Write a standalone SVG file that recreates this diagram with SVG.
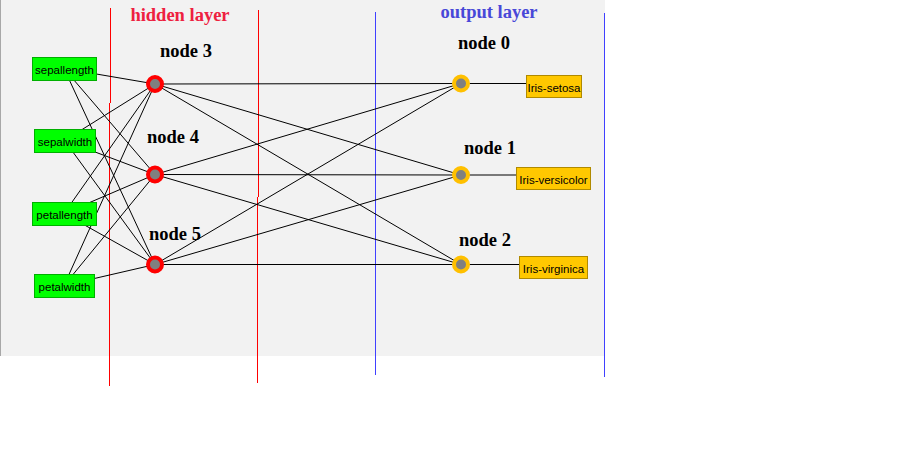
<svg xmlns="http://www.w3.org/2000/svg" width="921" height="458" viewBox="0 0 921 458">
<style>
.bg{fill:#f2f2f2}
.conn line{stroke:#000;stroke-width:1}
.in rect{fill:#00ff00;stroke:#00b000;stroke-width:1}
.out rect{fill:#ffc800;stroke:#b08a00;stroke-width:1}
.lbl{font-family:"Liberation Sans",Arial,sans-serif;font-size:11.5px;fill:#000}
.nl{font-family:"Liberation Serif","Times New Roman",serif;font-weight:bold;font-size:18.5px;fill:#000}
.hn .ring{fill:#808080;stroke:#ff0000;stroke-width:4}
.on .ring{fill:#808080;stroke:#ffc000;stroke-width:4}
</style>
<rect class="bg" x="0" y="0" width="605" height="356"/>
<line x1="0.5" y1="0" x2="0.5" y2="356" stroke="#a8a8a8" stroke-width="1"/>
<g id="layer-lines" fill="none" stroke-width="1">
<line x1="110.5" y1="8" x2="110.5" y2="103" stroke="#ff0000"/>
<line x1="109.5" y1="103" x2="109.5" y2="386" stroke="#ff0000"/>
<line x1="258.5" y1="10" x2="258.5" y2="197" stroke="#ff0000"/>
<line x1="257.5" y1="197" x2="257.5" y2="383" stroke="#ff0000"/>
<line x1="375.5" y1="12" x2="375.5" y2="375" stroke="#4040ff"/>
<line x1="604.5" y1="13" x2="604.5" y2="377" stroke="#4040ff"/>
</g>
<g id="layer-titles">
<text x="180" y="21" text-anchor="middle" style="font-family:'Liberation Serif','Times New Roman',serif;font-weight:bold;font-size:18.5px;fill:#ee2040">hidden layer</text>
<text x="489" y="18" text-anchor="middle" style="font-family:'Liberation Serif','Times New Roman',serif;font-weight:bold;font-size:18.5px;fill:#4848d8">output layer</text>
</g>
<g id="connectors" class="conn">
<line x1="64" y1="68.5" x2="155" y2="84"/>
<line x1="64" y1="68.5" x2="155" y2="174.5"/>
<line x1="64" y1="68.5" x2="155" y2="264.5"/>
<line x1="64.5" y1="140.5" x2="155" y2="84"/>
<line x1="64.5" y1="140.5" x2="155" y2="174.5"/>
<line x1="64.5" y1="140.5" x2="155" y2="264.5"/>
<line x1="64" y1="213.5" x2="155" y2="84"/>
<line x1="64" y1="213.5" x2="155" y2="174.5"/>
<line x1="64" y1="213.5" x2="155" y2="264.5"/>
<line x1="64" y1="285.5" x2="155" y2="84"/>
<line x1="64" y1="285.5" x2="155" y2="174.5"/>
<line x1="64" y1="285.5" x2="155" y2="264.5"/>
<line x1="155" y1="84" x2="461" y2="83.5"/>
<line x1="155" y1="84" x2="461" y2="175"/>
<line x1="155" y1="84" x2="461" y2="264.5"/>
<line x1="155" y1="174.5" x2="461" y2="83.5"/>
<line x1="155" y1="174.5" x2="461" y2="175"/>
<line x1="155" y1="174.5" x2="461" y2="264.5"/>
<line x1="155" y1="264.5" x2="461" y2="83.5"/>
<line x1="155" y1="264.5" x2="461" y2="175"/>
<line x1="155" y1="264.5" x2="461" y2="264.5"/>
<line x1="461" y1="83.5" x2="527" y2="83.5"/>
<line x1="461" y1="175" x2="517" y2="175"/>
<line x1="461" y1="264.5" x2="520" y2="264.5"/>
</g>
<g id="in-sepallength" class="in"><rect x="32.5" y="57.5" width="64" height="23"/><text class="lbl" x="64.5" y="74" text-anchor="middle">sepallength</text></g>
<g id="in-sepalwidth" class="in"><rect x="34.5" y="129.5" width="61" height="23"/><text class="lbl" x="65" y="146" text-anchor="middle">sepalwidth</text></g>
<g id="in-petallength" class="in"><rect x="32.5" y="202.5" width="64" height="23"/><text class="lbl" x="64.5" y="219" text-anchor="middle">petallength</text></g>
<g id="in-petalwidth" class="in"><rect x="34.5" y="274.5" width="60" height="23"/><text class="lbl" x="64.5" y="291" text-anchor="middle">petalwidth</text></g>
<g id="node3" class="hn"><circle class="ring" cx="155" cy="84" r="7"/><text class="nl" x="186" y="57" text-anchor="middle">node 3</text></g>
<g id="node4" class="hn"><circle class="ring" cx="155" cy="174.5" r="7"/><text class="nl" x="173" y="143" text-anchor="middle">node 4</text></g>
<g id="node5" class="hn"><circle class="ring" cx="155" cy="264.5" r="7"/><text class="nl" x="175" y="240" text-anchor="middle">node 5</text></g>
<g id="node0" class="on"><circle class="ring" cx="461" cy="83.5" r="7"/><text class="nl" x="484" y="49" text-anchor="middle">node 0</text></g>
<g id="node1" class="on"><circle class="ring" cx="461" cy="175" r="7"/><text class="nl" x="490" y="154" text-anchor="middle">node 1</text></g>
<g id="node2" class="on"><circle class="ring" cx="461" cy="264.5" r="7"/><text class="nl" x="485" y="246" text-anchor="middle">node 2</text></g>
<g id="out-setosa" class="out"><rect x="526.5" y="75.5" width="55" height="22"/><text class="lbl" x="554" y="92" text-anchor="middle">Iris-setosa</text></g>
<g id="out-versicolor" class="out"><rect x="516.5" y="167.5" width="74" height="22"/><text class="lbl" x="553.5" y="184" text-anchor="middle">Iris-versicolor</text></g>
<g id="out-virginica" class="out"><rect x="519.5" y="256.5" width="68" height="22"/><text class="lbl" x="553.5" y="273" text-anchor="middle">Iris-virginica</text></g>
</svg>
